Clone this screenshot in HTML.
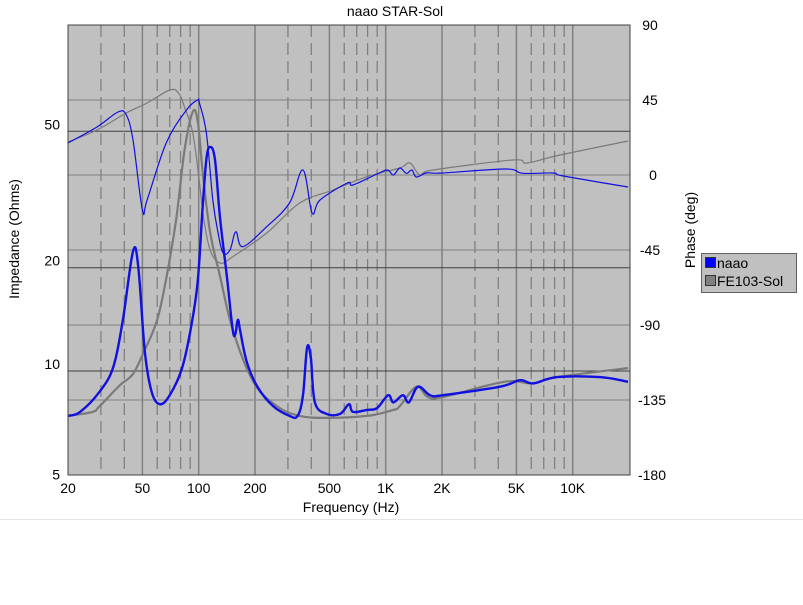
<!DOCTYPE html>
<html><head><meta charset="utf-8"><style>
body{margin:0;background:#fff;width:803px;height:600px;overflow:hidden;font-family:"Liberation Sans",sans-serif}
svg text{font-family:"Liberation Sans",sans-serif}
</style></head><body>
<svg id="c" width="803" height="600"></svg>
<script>
const impTicks=[5,10,20,50];
const phaseTicks=[90,45,0,-45,-90,-135,-180];
const freqLabels=[[20,"20"],[50,"50"],[100,"100"],[200,"200"],[500,"500"],[1000,"1K"],[2000,"2K"],[5000,"5K"],[10000,"10K"]];
const solidFreqs=[50,100,200,500,1000,2000,5000,10000];
const dashFreqs=[30,40,60,70,80,90,300,400,600,700,800,900,3000,4000,6000,7000,8000,9000];
const naaoImpF=[20,23.2,29.5,35,39.3,44.5,47.5,51.5,56,62,70,81,90,98.6,105,110,115,122,130,142,152,157,162,167,181,206,250,306,338,361,380,398,418,483,570,636,668,794,900,1030,1100,1236,1330,1488,1726,2023,4085,5224,6140,8240,14000,19760];
const naaoImp=[7.4,7.6,8.7,10.3,14.1,22.3,20.2,11.4,8.7,8.0,8.5,10.1,13,18.1,30.2,41.5,45,41.5,28,18.5,13.2,12.8,14.1,13,10.6,9.0,7.9,7.4,7.4,8.5,11.7,10.9,8.1,7.5,7.5,8.0,7.6,7.7,7.8,8.5,8.1,8.5,8.1,9.0,8.5,8.5,9.0,9.4,9.2,9.6,9.6,9.3];
const feImpF=[20,27,29.5,38,44.5,50.6,60,68,76,84,93,99,105.5,115,130,152,196,262,347,483,794,1100,1190,1460,1680,2023,4300,6140,8240,19760];
const feImp=[7.4,7.6,7.9,9.1,9.8,11.3,14.1,19.4,28,44,57,53,37,25.4,18.9,13.2,9.3,7.9,7.4,7.3,7.4,7.7,7.9,9.0,8.4,8.4,9.3,9.2,9.6,10.2];
const naaoPhF=[20,28.6,37,41,44.5,50,53,67,86,98.6,101,110,119,127,135,147,158,172,231,306,361,404,445,623,668,900,1020,1100,1190,1290,1380,1460,1650,2023,4400,5400,7900,8900,19760];
const naaoPh=[19.2,28.8,37.8,36,21,-21,-15,19.2,39,45,43,25,-15,-34.8,-46.8,-45,-34,-43,-31,-16.8,3,-22.8,-15,-4.8,-6,0.6,3,0,4.2,1,3,-1.2,1.2,1.2,3.6,1,1.2,-0.6,-7.2];
const fePhF=[20,28.6,41,53,70,78,84,93,101,106,115,130,152,231,347,522,794,1190,1348,1526,1790,4796,5700,8550,19760];
const fePh=[19.8,27,37.2,43.2,51,49.2,40.8,25,-4.8,-25,-45,-52.8,-49,-34.8,-16.8,-9,-1,4.2,7.2,0,3,9,7.2,12,20.4];

const L=68,T=25,R=630,B=475;
const X=f=>L+187*Math.log10(f/20);
const YZ=z=>371-343*Math.log10(z/10);
const YP=p=>B-(p+180)*450/270;
const svg=document.getElementById('c');const NS='http://www.w3.org/2000/svg';
function mk(t,a,p){const e=document.createElementNS(NS,t);for(const k in a)e.setAttribute(k,a[k]);(p||svg).appendChild(e);return e;}
const bg=mk('rect',{x:L,y:T,width:R-L,height:B-T,fill:'#c0c0c0'});


dashFreqs.forEach(f=>{const l=mk('line',{x1:X(f),x2:X(f),y1:T,y2:B,stroke:'#808080','stroke-width':1.3,'stroke-dasharray':'12,6'});

});
solidFreqs.forEach(f=>{const l=mk('line',{x1:X(f),x2:X(f),y1:T,y2:B,stroke:'#808080','stroke-width':1.5});

});
phaseTicks.forEach(p=>{if(p===90||p===-180)return;const l=mk('line',{x1:L,x2:R,y1:YP(p),y2:YP(p),stroke:'#808080','stroke-width':1});

});
impTicks.forEach(z=>{if(z===5)return;const l=mk('line',{x1:L,x2:R,y1:YZ(z),y2:YZ(z),stroke:'#404040','stroke-width':1});

});
function line(fs,vs,yf,col,w,name){
const P=fs.map((f,i)=>[X(f),yf(vs[i])]);
let d='M'+P[0][0].toFixed(1)+','+P[0][1].toFixed(1);
const k=0.35;
for(let i=0;i<P.length-1;i++){const p0=P[Math.max(0,i-1)],p1=P[i],p2=P[i+1],p3=P[Math.min(P.length-1,i+2)];
const c1=[p1[0]+(p2[0]-p0[0])*k/2,p1[1]+(p2[1]-p0[1])*k/2];
const c2=[p2[0]-(p3[0]-p1[0])*k/2,p2[1]-(p3[1]-p1[1])*k/2];
d+='C'+c1.map(v=>v.toFixed(1))+' '+c2.map(v=>v.toFixed(1))+' '+p2.map(v=>v.toFixed(1));}
const p=mk('path',{d:d,fill:'none',stroke:col,'stroke-width':w,'stroke-linejoin':'round'});

}
line(fePhF,fePh,YP,'#7a7a7a',1.2,'fe103-phase-line');
line(feImpF,feImp,YZ,'#7a7a7a',2.2,'fe103-impedance-line');
line(naaoPhF,naaoPh,YP,'#1010e0',1.2,'naao-phase-line');
line(naaoImpF,naaoImp,YZ,'#1010e0',2.4,'naao-impedance-line');
const fr=mk('rect',{x:L,y:T,width:R-L,height:B-T,fill:'none',stroke:'#404040','stroke-width':1});


impTicks.forEach(z=>{const t=mk('text',{x:60,y:YZ(z)+(z===5?5:-2),'text-anchor':'end','font-size':14});t.textContent=z;

});
phaseTicks.forEach(p=>{const t=mk('text',{x:p===0?653:(p<=-135?652:650),y:YP(p)+5,'text-anchor':'middle','font-size':14});t.textContent=p;

});
freqLabels.forEach(([f,s])=>{const t=mk('text',{x:X(f),y:493,'text-anchor':'middle','font-size':14});t.textContent=s;

});
</script>
<div style="position:absolute;left:0;top:0;width:803px;height:600px;pointer-events:none">
<div style="position:absolute;left:0;width:790px;top:3px;text-align:center;font-size:14px">naao STAR-Sol</div>
<div style="position:absolute;left:251px;width:200px;top:499px;text-align:center;font-size:14px">Frequency (Hz)</div>
<div style="position:absolute;left:-86px;width:200px;top:231px;text-align:center;font-size:14px;transform:rotate(-90deg)">Impedance (Ohms)</div>
<div style="position:absolute;left:590px;width:200px;top:222px;text-align:center;font-size:14px;transform:rotate(-90deg)">Phase (deg)</div>
<div style="position:absolute;left:701px;top:253px;width:94px;height:38px;background:#c0c0c0;border:1px solid #606060;font-size:14px;line-height:18px">
<div style="padding-left:3px"><span style="display:inline-block;width:9px;height:9px;background:#0000ff;border:1px solid #333;margin-right:1px"></span>naao</div>
<div style="padding-left:3px"><span style="display:inline-block;width:9px;height:9px;background:#808080;border:1px solid #333;margin-right:1px"></span>FE103-Sol</div>
</div>
<div style="position:absolute;left:0;top:519px;width:803px;height:1px;background:#e4e4e4"></div>
</div>
</body></html>
